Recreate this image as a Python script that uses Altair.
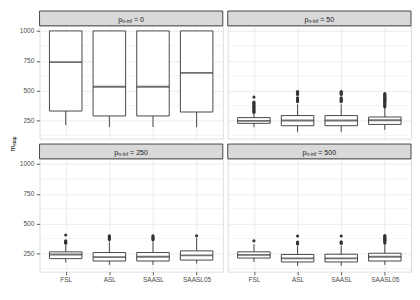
import altair as alt
import pandas as pd

# ---------------- data ----------------
methods = ["FSL", "ASL", "SAASL", "SAASL05"]
p_levels = ["0", "50", "250", "500"]

whisker_low = [
    [212, 195, 195, 195],
    [193, 155, 155, 171],
    [174, 155, 155, 166],
    [179, 147, 147, 155],
]
box_q1 = [
    [329, 288, 288, 321],
    [226, 206, 206, 217],
    [207, 187, 187, 195],
    [212, 179, 179, 187],
]
box_median = [
    [739, 533, 533, 649],
    [247, 250, 250, 252],
    [242, 220, 223, 234],
    [239, 209, 209, 223],
]
box_q3 = [
    [1000, 1000, 1000, 1000],
    [274, 291, 291, 279],
    [264, 258, 258, 272],
    [264, 242, 244, 252],
]
whisker_high = [
    [1000, 1000, 1000, 1000],
    [312, 385, 385, 358],
    [322, 352, 352, 382],
    [328, 312, 315, 330],
]
outliers = [
    [[], [], [], []],
    [[318, 326, 334, 342, 350, 358, 366, 374, 382, 390, 398, 405, 446],
     [408, 416, 424, 432, 440, 468, 476, 484, 492],
     [408, 416, 424, 432, 440, 468, 476, 484, 492],
     [364, 372, 380, 388, 396, 404, 412, 420, 428, 436, 444, 452, 460, 468, 476]],
    [[336, 343, 350, 357, 405],
     [368, 376, 384, 392, 399],
     [366, 374, 382, 390, 399],
     [399]],
    [[356],
     [330, 338, 346, 397],
     [334, 341, 348, 397],
     [338, 346, 354, 362, 370, 378, 386, 394, 400]],
]
y_breaks = [250, 500, 750, 1000]
y_minor = [125, 375, 625, 875]
y_domain = [98, 1043]

# ---------------- styling ----------------
FONT = "Liberation Sans"
DARK = "#333333"
GRID = "#EBEBEB"
W, H = 186, 114.5
STRIP = 15
BOXW = 33
F_MAIN, F_SUB = 7.2, 5.1


def x_axis(show):
    return alt.Axis(labels=show, ticks=show, grid=True, domain=False, title=None,
                    labelAngle=0, labelFont=FONT, labelFontSize=6.6, labelColor="#4D4D4D",
                    tickColor=DARK, tickSize=3.3, tickWidth=0.8, labelPadding=1.2,
                    gridColor=GRID, gridWidth=1)


def y_axis(show):
    return alt.Axis(values=y_breaks, format="d", labels=show, ticks=show, grid=True,
                    domain=False, title=None, labelFont=FONT, labelFontSize=6.6,
                    labelColor="#4D4D4D", tickColor=DARK, tickSize=3.3, tickWidth=0.8,
                    labelPadding=2.5, gridColor=GRID, gridWidth=1)


def panel(i, show_x, show_y, with_title):
    summ = pd.DataFrame({
        "method": methods, "lo": whisker_low[i], "q1": box_q1[i],
        "med": box_median[i], "q3": box_q3[i], "hi": whisker_high[i],
    })
    om, ov = [], []
    for m, vals in zip(methods, outliers[i]):
        for v in vals:
            om.append(m)
            ov.append(v)
    outs = pd.DataFrame({"method": om, "value": ov}, columns=["method", "value"])

    xs = alt.X("method:N", sort=methods, scale=alt.Scale(type="point", padding=0.6),
               axis=x_axis(show_x))
    ysc = alt.Scale(domain=y_domain, nice=False, zero=False)
    ya = y_axis(show_y)

    minor = alt.Chart(pd.DataFrame({"v": y_minor})).mark_rule(
        color=GRID, strokeWidth=0.55).encode(y=alt.Y("v:Q", scale=ysc, axis=ya))
    base = alt.Chart(summ)
    whisk = base.mark_rule(color=DARK, strokeWidth=0.9).encode(
        x=xs, y=alt.Y("lo:Q", scale=ysc, axis=ya), y2="hi:Q")
    box = base.mark_bar(fill="white", stroke=DARK, strokeWidth=0.9, size=BOXW).encode(
        x=xs, y=alt.Y("q1:Q", scale=ysc, axis=ya), y2="q3:Q")
    med = base.mark_tick(color=DARK, thickness=1.9, size=BOXW).encode(
        x=xs, y=alt.Y("med:Q", scale=ysc, axis=ya))
    pts = alt.Chart(outs).mark_circle(size=10, color=DARK, opacity=1).encode(
        x=xs, y=alt.Y("value:Q", scale=ysc, axis=ya))

    # strip with sub-scripted label
    lab = p_levels[i]
    strip_df = pd.DataFrame({"rest": ["= " + lab]})
    w_p = 0.556 * F_MAIN
    w_sub = 1.945 * F_SUB
    w_rest = (0.278 + 0.584 + 0.278 + 0.556 * len(lab)) * F_MAIN
    x0 = W / 2 - (w_p + w_sub + w_rest) / 2
    sbase = alt.Chart(strip_df)
    srect = sbase.mark_rect(fill="#D9D9D9", stroke=DARK, strokeWidth=0.9).encode(
        x=alt.value(0), x2=alt.value(W), y=alt.value(-STRIP), y2=alt.value(0))
    tp = sbase.mark_text(font=FONT, fontSize=F_MAIN, color="#1A1A1A", align="left",
                         baseline="alphabetic").encode(
        x=alt.value(x0), y=alt.value(-4.2), text=alt.value("p"))
    ts = sbase.mark_text(font=FONT, fontSize=F_SUB, color="#1A1A1A", align="left",
                         baseline="alphabetic").encode(
        x=alt.value(x0 + w_p), y=alt.value(-2.6), text=alt.value("n-inf"))
    tr = sbase.mark_text(font=FONT, fontSize=F_MAIN, color="#1A1A1A", align="left",
                         baseline="alphabetic").encode(
        x=alt.value(x0 + w_p + w_sub + 0.278 * F_MAIN), y=alt.value(-4.2),
        text="rest:N")

    layers = [minor, whisk, box, med, pts, srect, tp, ts, tr]
    if with_title:
        tm = sbase.mark_text(font=FONT, fontSize=7, color="black", align="left",
                             baseline="alphabetic", angle=270).encode(
            x=alt.value(-25), y=alt.value(127.5), text=alt.value("m"))
        tsub = sbase.mark_text(font=FONT, fontSize=4.9, color="black", align="left",
                               baseline="alphabetic", angle=270).encode(
            x=alt.value(-23.7), y=alt.value(127.5 - 0.833 * 7), text=alt.value("stop"))
        layers += [tm, tsub]
    return alt.layer(*layers).properties(width=W, height=H)


charts = [
    panel(0, False, True, True),
    panel(1, False, False, False),
    panel(2, True, True, False),
    panel(3, True, False, False),
]

chart = alt.concat(*charts, columns=2, spacing={"row": 20, "column": 5},
                   bounds="flush", padding=0).configure_view(
    stroke=DARK, strokeWidth=1).configure(background="white")

chart.save("out.html", embed_options={"renderer": "svg", "actions": False})
